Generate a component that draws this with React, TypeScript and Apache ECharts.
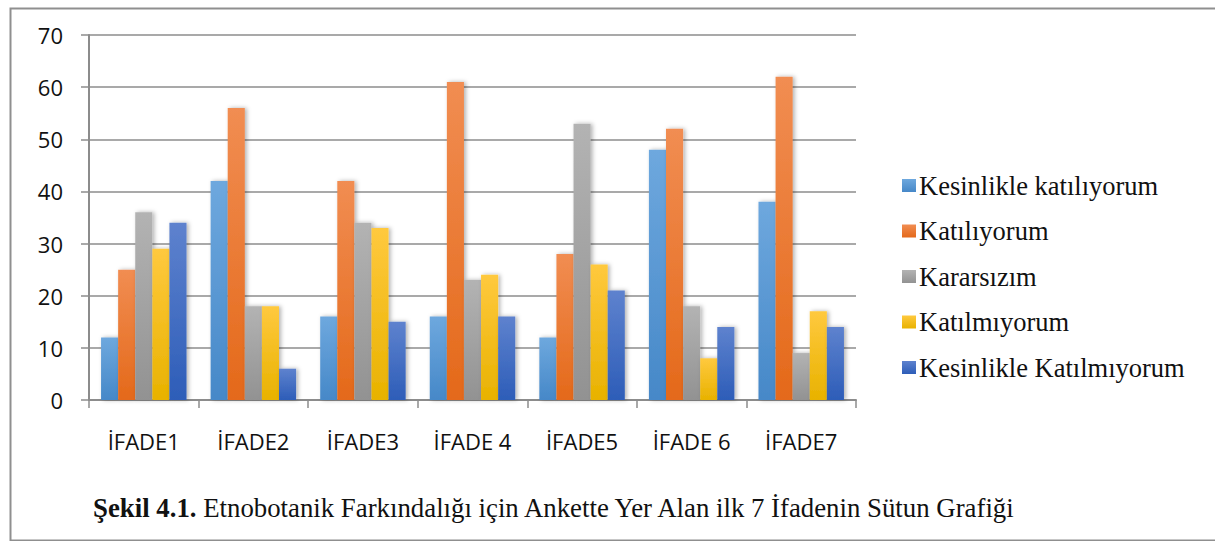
import React, { useEffect, useRef } from "react";
import * as echarts from "echarts";

const categories = ["İFADE1", "İFADE2", "İFADE3", "İFADE 4", "İFADE5", "İFADE 6", "İFADE7"];
const seriesNames = [
  "Kesinlikle katılıyorum",
  "Katılıyorum",
  "Kararsızım",
  "Katılmıyorum",
  "Kesinlikle Katılmıyorum",
];
const kesinlikleKatiliyorum = [12, 42, 16, 16, 12, 48, 38];
const katiliyorum = [25, 56, 42, 61, 28, 52, 62];
const kararsizim = [36, 18, 34, 23, 53, 18, 9];
const katilmiyorum = [29, 18, 33, 24, 26, 8, 17];
const kesinlikleKatilmiyorum = [34, 6, 15, 16, 21, 14, 14];
const yTicks = [0, 10, 20, 30, 40, 50, 60, 70];
const captionBold = "Şekil 4.1.";
const captionRest = " Etnobotanik Farkındalığı için Ankette Yer Alan ilk 7 İfadenin Sütun Grafiği";

const seriesData = [
  kesinlikleKatiliyorum,
  katiliyorum,
  kararsizim,
  katilmiyorum,
  kesinlikleKatilmiyorum,
];
const gradients: [string, string][] = [
  ["#6EA8DE", "#4688C8"],
  ["#F18D52", "#E4691A"],
  ["#B3B3B3", "#929292"],
  ["#FFC93E", "#E8B200"],
  ["#5E82CE", "#2D5DB8"],
];

const SERIF = "Liberation Serif";

function grad(i: number) {
  return new echarts.graphic.LinearGradient(0, 0, 0, 1, [
    { offset: 0, color: gradients[i][0] },
    { offset: 1, color: gradients[i][1] },
  ]);
}

export default function App() {
  const ref = useRef<HTMLDivElement>(null);
  useEffect(() => {
    document.body.style.margin = "0";
    const chart = echarts.init(ref.current!, undefined, { renderer: "svg" });
    const option: any = {
      animation: false,
      backgroundColor: "#ffffff",
      grid: { left: 89, top: 35, right: 359, bottom: 141, containLabel: false },
      legend: {
        orient: "vertical",
        left: 897,
        top: 167,
        itemWidth: 14,
        itemHeight: 13,
        itemGap: 18.5,
        icon: "rect",
        data: seriesNames,
        textStyle: {
          fontFamily: SERIF,
          fontSize: 26.5,
          lineHeight: 26.5,
          color: "#111",
          padding: [0, 0, 0, -2],
        },
      },
      xAxis: {
        type: "category",
        data: categories,
        axisLine: { lineStyle: { color: "#8c8c8c", width: 2 } },
        axisTick: { show: true, length: 8, lineStyle: { color: "#8c8c8c", width: 1.5 } },
        axisLabel: {
          margin: 30,
          fontFamily: "Open Sans",
          fontSize: 22,
          color: "#111",
        },
      },
      yAxis: {
        type: "value",
        min: 0,
        max: 70,
        interval: 10,
        axisLine: { show: true, lineStyle: { color: "#8c8c8c", width: 2 } },
        axisTick: { show: true, length: 8, lineStyle: { color: "#8c8c8c", width: 1.5 } },
        splitLine: { lineStyle: { color: "#8c8c8c", width: 1.5 } },
        axisLabel: {
          margin: 26,
          fontFamily: "Open Sans",
          fontSize: 22,
          color: "#111",
          formatter: (v: number) => (yTicks.includes(v) ? String(v) : ""),
        },
      },
      series: seriesNames.map((name, i) => ({
        name,
        type: "bar",
        data: seriesData[i],
        barGap: "0%",
        barCategoryGap: "22%",
        itemStyle: {
          color: grad(i),
          shadowColor: "rgba(0,0,0,0.3)",
          shadowBlur: 4,
          shadowOffsetX: 2,
        },
      })),
      graphic: [
        {
          type: "rect",
          left: 8,
          top: 6,
          shape: { x: 0, y: 0, width: 1230, height: 532 },
          style: { fill: "none", stroke: "#8f8f8f", lineWidth: 2 },
          silent: true,
          z: -1,
        },
        {
          type: "text",
          left: 93,
          top: 494,
          style: {
            text: "{b|" + captionBold + "}{r|" + captionRest + "}",
            rich: {
              b: {
                fontFamily: SERIF,
                fontWeight: "bold",
                fontSize: 26.8,
                fill: "#111",
              },
              r: {
                fontFamily: SERIF,
                fontSize: 26.8,
                fill: "#111",
              },
            },
          },
        },
      ],
    };
    chart.setOption(option);
    return () => chart.dispose();
  }, []);
  return <div ref={ref} style={{ width: 1215, height: 541 }} />;
}
